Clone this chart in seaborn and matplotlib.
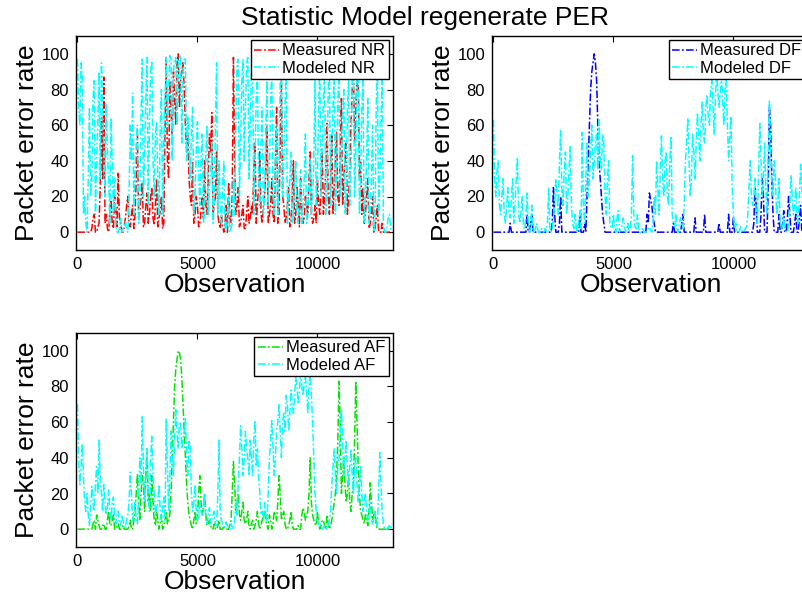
import numpy as np
import pandas as pd
import matplotlib
matplotlib.use("Agg")
import matplotlib.pyplot as plt
import seaborn as sns

# Observation indices: readings every 100 observations, plus readings taken
# half-way between them (obs 50, 150, ...)
observation = np.arange(0, 13200, 100)
observation_half = np.arange(50, 13150, 100)

measured_nr = [0, 0, 0, 0, 0, 0, 2, 10, 0, 5,
               64, 87, 10, 0, 18, 2, 12, 33, 5, 0,
               8, 20, 3, 15, 10, 55, 12, 28, 5, 22,
               10, 25, 4, 30, 8, 20, 5, 98, 30, 70,
               90, 60, 100, 85, 95, 60, 55, 20, 40, 10,
               15, 5, 20, 40, 10, 55, 67, 15, 45, 5,
               10, 0, 15, 28, 5, 98, 10, 25, 5, 15,
               2, 20, 8, 10, 50, 15, 45, 5, 20, 60,
               10, 30, 5, 70, 10, 86, 15, 8, 25, 5,
               40, 10, 15, 30, 5, 20, 10, 45, 5, 15,
               30, 10, 45, 20, 61, 10, 55, 25, 56, 15,
               75, 30, 50, 20, 60, 95, 70, 90, 40, 25,
               10, 30, 5, 20, 2, 15, 0, 5, 0, 0,
               0, 0]
measured_nr_half = [0, 0, 0, 0, 0, 0, 8, 0, 3, 25,
                    30, 5, 2, 10, 5, 20, 3, 8, 0, 3,
                    15, 5, 10, 2, 30, 8, 20, 3, 15, 5,
                    20, 8, 15, 3, 12, 2, 60, 40, 85, 50,
                    75, 95, 70, 90, 80, 45, 30, 15, 5, 20,
                    3, 12, 8, 15, 30, 45, 10, 20, 10, 2,
                    3, 5, 0, 8, 20, 40, 15, 3, 10, 2,
                    10, 5, 15, 35, 5, 25, 10, 15, 35, 5,
                    15, 10, 40, 5, 50, 20, 5, 15, 3, 20,
                    5, 25, 3, 12, 8, 15, 30, 10, 8, 5,
                    15, 25, 10, 35, 20, 30, 10, 40, 20, 45,
                    15, 40, 10, 35, 80, 50, 85, 30, 10, 5,
                    20, 2, 10, 0, 8, 0, 0, 0, 0, 0,
                    0]
modeled_nr = [97, 60, 88, 20, 0, 70, 30, 85, 40, 90,
              95, 50, 72, 30, 64, 10, 5, 0, 8, 2,
              6, 0, 60, 78, 35, 60, 20, 97, 45, 98,
              60, 96, 20, 62, 10, 80, 50, 98, 80, 97,
              90, 98, 93, 99, 88, 97, 65, 30, 70, 20,
              62, 15, 55, 10, 60, 25, 50, 20, 95, 40,
              5, 40, 0, 20, 2, 30, 60, 97, 50, 97,
              70, 98, 60, 95, 40, 90, 15, 70, 20, 85,
              30, 90, 10, 60, 35, 95, 40, 95, 20, 45,
              10, 40, 5, 35, 15, 55, 10, 40, 20, 85,
              30, 95, 50, 90, 25, 95, 50, 90, 30, 85,
              40, 80, 20, 85, 35, 95, 45, 97, 30, 85,
              20, 75, 10, 60, 5, 95, 30, 90, 0, 3,
              10, 0]
modeled_nr_half = [70, 95, 10, 5, 30, 20, 75, 10, 60, 30,
                   70, 20, 45, 5, 40, 30, 0, 2, 0, 4,
                   1, 20, 40, 10, 50, 5, 65, 20, 75, 15,
                   90, 40, 55, 30, 60, 10, 75, 60, 99, 40,
                   97, 60, 98, 50, 97, 40, 50, 55, 10, 45,
                   35, 40, 5, 45, 10, 35, 5, 60, 10, 15,
                   25, 3, 10, 0, 5, 10, 95, 20, 85, 40,
                   95, 30, 90, 10, 75, 30, 50, 10, 60, 15,
                   75, 20, 40, 10, 85, 20, 70, 5, 30, 5,
                   30, 10, 20, 5, 30, 5, 25, 10, 40, 15,
                   70, 20, 75, 10, 80, 15, 70, 10, 75, 20,
                   65, 10, 70, 15, 85, 20, 90, 10, 70, 5,
                   40, 5, 30, 0, 70, 10, 60, 5, 0, 8,
                   2]

measured_df = [0, 0, 0, 0, 0, 0, 0, 5, 0, 0,
               0, 0, 0, 0, 10, 0, 10, 0, 0, 0,
               0, 0, 0, 0, 0, 25, 0, 0, 20, 0,
               0, 0, 0, 0, 0, 0, 10, 0, 5, 20,
               60, 90, 100, 85, 40, 20, 5, 0, 0, 0,
               0, 0, 0, 0, 0, 0, 0, 0, 0, 0,
               0, 0, 0, 0, 10, 22, 15, 5, 0, 0,
               0, 0, 0, 0, 0, 5, 0, 0, 0, 10,
               0, 0, 0, 0, 8, 0, 0, 0, 10, 0,
               0, 0, 0, 0, 5, 0, 0, 0, 10, 0,
               8, 0, 0, 0, 0, 0, 0, 0, 0, 25,
               0, 0, 30, 0, 0, 70, 30, 0, 0, 10,
               0, 12, 0, 20, 0, 0, 10, 0, 15, 0,
               0, 0]
measured_df_half = [0, 0, 0, 0, 0, 0, 0, 0, 0, 0,
                    0, 0, 0, 0, 0, 5, 0, 0, 0, 0,
                    0, 0, 0, 0, 5, 10, 0, 5, 0, 0,
                    0, 0, 0, 0, 0, 0, 0, 0, 0, 40,
                    80, 95, 95, 60, 30, 10, 0, 0, 0, 0,
                    0, 0, 0, 0, 0, 0, 0, 0, 0, 0,
                    0, 0, 0, 0, 5, 18, 8, 0, 0, 0,
                    0, 0, 0, 0, 0, 0, 0, 0, 5, 0,
                    0, 0, 0, 0, 0, 0, 0, 0, 0, 0,
                    0, 0, 0, 0, 0, 0, 0, 0, 0, 0,
                    0, 0, 0, 0, 0, 0, 0, 0, 5, 15,
                    0, 10, 20, 0, 25, 60, 10, 0, 0, 0,
                    5, 0, 8, 10, 0, 5, 0, 8, 0, 0,
                    0]
modeled_df = [63, 20, 40, 10, 30, 5, 25, 8, 30, 15,
              42, 5, 20, 2, 22, 0, 15, 1, 5, 0,
              2, 0, 1, 25, 0, 8, 30, 10, 57, 15,
              45, 20, 48, 5, 10, 0, 12, 56, 5, 50,
              30, 60, 40, 55, 63, 35, 50, 10, 40, 2,
              10, 0, 12, 2, 8, 0, 5, 1, 43, 3,
              10, 0, 2, 0, 1, 3, 0, 20, 40, 10,
              54, 20, 45, 15, 54, 5, 10, 0, 8, 2,
              40, 64, 20, 55, 30, 67, 40, 73, 50, 77,
              60, 85, 55, 90, 70, 88, 60, 85, 40, 65,
              10, 5, 0, 3, 0, 2, 10, 40, 15, 30,
              5, 61, 20, 50, 10, 74, 25, 40, 10, 30,
              2, 8, 0, 5, 32, 10, 25, 5, 38, 10,
              3, 0]
modeled_df_half = [30, 35, 15, 20, 10, 15, 12, 20, 5, 30,
                   10, 12, 3, 8, 5, 3, 0, 2, 1, 0,
                   0, 2, 5, 3, 2, 15, 20, 40, 25, 35,
                   10, 35, 15, 2, 3, 5, 2, 15, 30, 20,
                   45, 30, 50, 35, 40, 55, 20, 30, 5, 3,
                   2, 8, 0, 3, 5, 2, 0, 10, 8, 2,
                   2, 0, 1, 0, 2, 1, 5, 10, 25, 35,
                   30, 40, 20, 40, 10, 3, 2, 5, 3, 15,
                   50, 40, 30, 45, 50, 55, 60, 55, 70, 65,
                   80, 70, 75, 80, 78, 75, 80, 60, 55, 25,
                   2, 0, 1, 0, 1, 3, 25, 20, 20, 10,
                   35, 40, 30, 25, 45, 50, 20, 30, 15, 5,
                   3, 2, 0, 15, 20, 15, 10, 20, 25, 2,
                   1]

measured_af = [0, 0, 0, 0, 0, 0, 0, 5, 8, 2,
               0, 3, 0, 10, 2, 8, 0, 3, 0, 2,
               0, 0, 5, 0, 10, 31, 5, 30, 10, 45,
               20, 30, 5, 10, 0, 8, 2, 10, 5, 20,
               60, 90, 100, 95, 70, 40, 15, 5, 0, 10,
               5, 30, 8, 20, 2, 5, 0, 3, 0, 5,
               0, 2, 0, 0, 5, 38, 10, 20, 5, 15,
               3, 10, 0, 5, 2, 10, 0, 5, 10, 2,
               8, 0, 10, 5, 30, 5, 10, 0, 2, 10,
               0, 0, 2, 0, 12, 5, 10, 40, 8, 3,
               10, 0, 5, 2, 8, 0, 5, 15, 30, 83,
               20, 40, 15, 30, 10, 25, 83, 35, 10, 5,
               8, 2, 26, 5, 10, 0, 0, 0, 0, 0,
               0, 0]
measured_af_half = [0, 0, 0, 0, 0, 0, 3, 0, 5, 0,
                    2, 0, 5, 3, 5, 0, 2, 0, 0, 0,
                    0, 2, 0, 5, 20, 15, 20, 25, 30, 15,
                    10, 15, 2, 5, 3, 0, 5, 3, 8, 40,
                    80, 95, 99, 85, 55, 25, 8, 2, 5, 3,
                    20, 15, 12, 8, 3, 2, 0, 0, 2, 0,
                    0, 0, 0, 2, 20, 25, 15, 8, 10, 5,
                    5, 2, 3, 0, 5, 3, 2, 8, 5, 0,
                    5, 3, 8, 15, 20, 8, 3, 0, 5, 3,
                    0, 0, 0, 8, 10, 8, 20, 15, 5, 2,
                    3, 2, 5, 0, 3, 2, 10, 20, 50, 60,
                    30, 25, 20, 15, 20, 50, 60, 20, 8, 3,
                    5, 10, 15, 8, 3, 0, 0, 0, 0, 0,
                    0]
modeled_af = [70, 25, 48, 15, 20, 2, 24, 10, 35, 50,
              20, 25, 8, 22, 5, 18, 3, 10, 2, 5,
              1, 8, 32, 5, 15, 3, 40, 63, 15, 45,
              10, 52, 20, 12, 25, 5, 18, 62, 10, 55,
              30, 67, 45, 60, 50, 62, 30, 45, 10, 25,
              5, 15, 8, 20, 3, 12, 5, 10, 2, 50,
              5, 2, 4, 1, 3, 0, 15, 25, 58, 30,
              55, 40, 50, 30, 61, 45, 20, 10, 15, 5,
              40, 61, 30, 55, 70, 40, 65, 75, 55, 78,
              65, 85, 70, 88, 75, 85, 65, 88, 60, 20,
              5, 3, 0, 2, 0, 5, 25, 45, 20, 40,
              67, 30, 50, 25, 45, 20, 40, 15, 35, 10,
              20, 5, 15, 3, 10, 2, 43, 10, 0, 0,
              2, 3]
modeled_af_half = [40, 35, 30, 10, 8, 12, 15, 25, 20, 30,
                   10, 15, 12, 10, 15, 5, 8, 3, 8, 2,
                   5, 15, 20, 10, 5, 20, 25, 35, 30, 20,
                   40, 30, 8, 15, 10, 12, 5, 35, 30, 40,
                   50, 55, 60, 45, 55, 40, 50, 20, 15, 10,
                   8, 10, 12, 5, 8, 3, 8, 2, 20, 10,
                   3, 1, 2, 0, 1, 5, 8, 40, 45, 40,
                   45, 30, 40, 50, 35, 30, 8, 5, 8, 20,
                   50, 45, 40, 60, 55, 60, 55, 70, 65, 70,
                   75, 80, 78, 80, 82, 78, 80, 75, 40, 10,
                   2, 1, 1, 0, 2, 10, 35, 30, 35, 55,
                   50, 40, 35, 35, 30, 35, 25, 25, 20, 15,
                   10, 8, 5, 5, 3, 20, 25, 3, 0, 1,
                   0]

title = "Statistic Model regenerate PER"
xlabel = "Observation"
ylabel = "Packet error rate"
xticks = [0, 5000, 10000]
yticks = [0, 20, 40, 60, 80, 100]

sns.set_style("white")
plt.rcParams['font.family'] = ['Liberation Sans', 'DejaVu Sans']
plt.rcParams['text.color'] = 'black'
plt.rcParams['axes.labelcolor'] = 'black'

fig = plt.figure(figsize=(8.03, 5.94), dpi=100)
W, H = 803, 594


def px_axes(left, top, right, bottom):
    return fig.add_axes([left / W, 1 - bottom / H, (right - left) / W, (bottom - top) / H])


def series(main, half):
    df = pd.concat([pd.DataFrame({"obs": observation, "per": main}),
                    pd.DataFrame({"obs": observation_half, "per": half})])
    return df.sort_values("obs").reset_index(drop=True)


panels = [
    (px_axes(76, 36, 393, 250), series(measured_nr, measured_nr_half),
     series(modeled_nr, modeled_nr_half), (1, 0, 0), "Measured NR", "Modeled NR"),
    (px_axes(492, 36, 809, 250), series(measured_df, measured_df_half),
     series(modeled_df, modeled_df_half), (0, 0, 1), "Measured DF", "Modeled DF"),
    (px_axes(76, 333, 393, 547), series(measured_af, measured_af_half),
     series(modeled_af, modeled_af_half), (0, 0.9, 0), "Measured AF", "Modeled AF"),
]

dash = (0, (5, 1.5, 1.2, 1.5))
for ax, meas, mod, col, lab_m, lab_c in panels:
    sns.lineplot(data=meas, x="obs", y="per", ax=ax, color=col, lw=1.1,
                 linestyle=dash, label=lab_m, estimator=None, sort=False)
    sns.lineplot(data=mod, x="obs", y="per", ax=ax, color=(0, 1, 1), lw=1.1,
                 linestyle=dash, label=lab_c, estimator=None, sort=False)
    ax.set_xlim(-60, 13150)
    ax.set_ylim(-10, 110)
    ax.set_xticks(xticks)
    ax.set_yticks(yticks)
    ax.tick_params(direction='in', length=4, width=0.8, top=True, right=True,
                   labelsize=12, colors='black', pad=5)
    for s in ax.spines.values():
        s.set_visible(True)
        s.set_color('black')
        s.set_linewidth(1.0)
    ax.set_xlabel(xlabel, fontsize=19, labelpad=1, color='black')
    ax.set_ylabel(ylabel, fontsize=19, labelpad=2, color='black')
    leg = ax.legend(loc='upper right', fontsize=12, frameon=True, fancybox=False,
                    framealpha=1, edgecolor='black', borderaxespad=0.25,
                    handlelength=1.5, handletextpad=0.2, borderpad=0.2,
                    labelspacing=0.15)
    leg.get_frame().set_linewidth(1.0)
    for t in leg.get_texts():
        t.set_color('black')

fig.text(0.529, 0.969, title, ha='center', va='center', fontsize=19, color='black')

fig.savefig("out.png", dpi=100)
